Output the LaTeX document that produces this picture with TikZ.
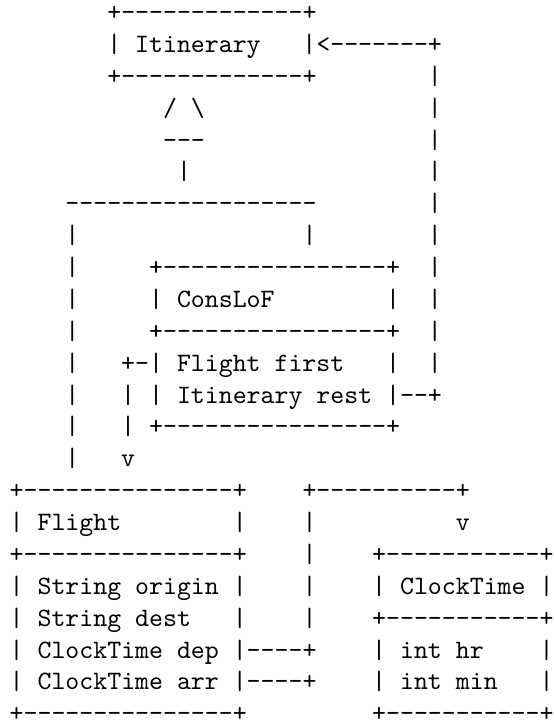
\documentclass[tikz,border=0pt]{standalone}
\usetikzlibrary{positioning}

\begin{document}
\begin{tikzpicture}[
    asciirow/.style={anchor=base west,inner sep=0pt,outer sep=0pt,
      font=\fontsize{10}{12}\selectfont\ttfamily,text=black}]
    % page frame
    \fill[white] (0,0) rectangle (208.3pt,-273pt);
    \useasboundingbox (0,0) rectangle (208.3pt,-273pt);
    \foreach \row [count=\i from 1] in {
      {~~~~~~~+-------------+},
      {~~~~~~~|~Itinerary~~~|<-------+},
      {~~~~~~~+-------------+~~~~~~~~|},
      {~~~~~~~~~~~/~\textbackslash~~~~~~~~~~~~~~~~|},
      {~~~~~~~~~~~---~~~~~~~~~~~~~~~~|},
      {~~~~~~~~~~~~|~~~~~~~~~~~~~~~~~|},
      {~~~~------------------~~~~~~~~|},
      {~~~~|~~~~~~~~~~~~~~~~|~~~~~~~~|},
      {~~~~|~~~~~+----------------+~~|},
      {~~~~|~~~~~|~ConsLoF~~~~~~~~|~~|},
      {~~~~|~~~~~+----------------+~~|},
      {~~~~|~~~+-|~Flight~first~~~|~~|},
      {~~~~|~~~|~|~Itinerary~rest~|--+},
      {~~~~|~~~|~+----------------+},
      {~~~~|~~~v},
      {+---------------+~~~~+----------+},
      {|~Flight~~~~~~~~|~~~~|~~~~~~~~~~v},
      {+---------------+~~~~|~~~~+-----------+},
      {|~String~origin~|~~~~|~~~~|~ClockTime~|},
      {|~String~dest~~~|~~~~|~~~~+-----------+},
      {|~ClockTime~dep~|----+~~~~|~int~hr~~~~|},
      {|~ClockTime~arr~|----+~~~~|~int~min~~~|},
      {+---------------+~~~~~~~~~+-----------+}}
    {
      \node[asciirow] (r\i) at (3.66pt,{-7.77pt-(\i-1)*12pt}) {\row};
    }
  \end{tikzpicture}
\end{document}
